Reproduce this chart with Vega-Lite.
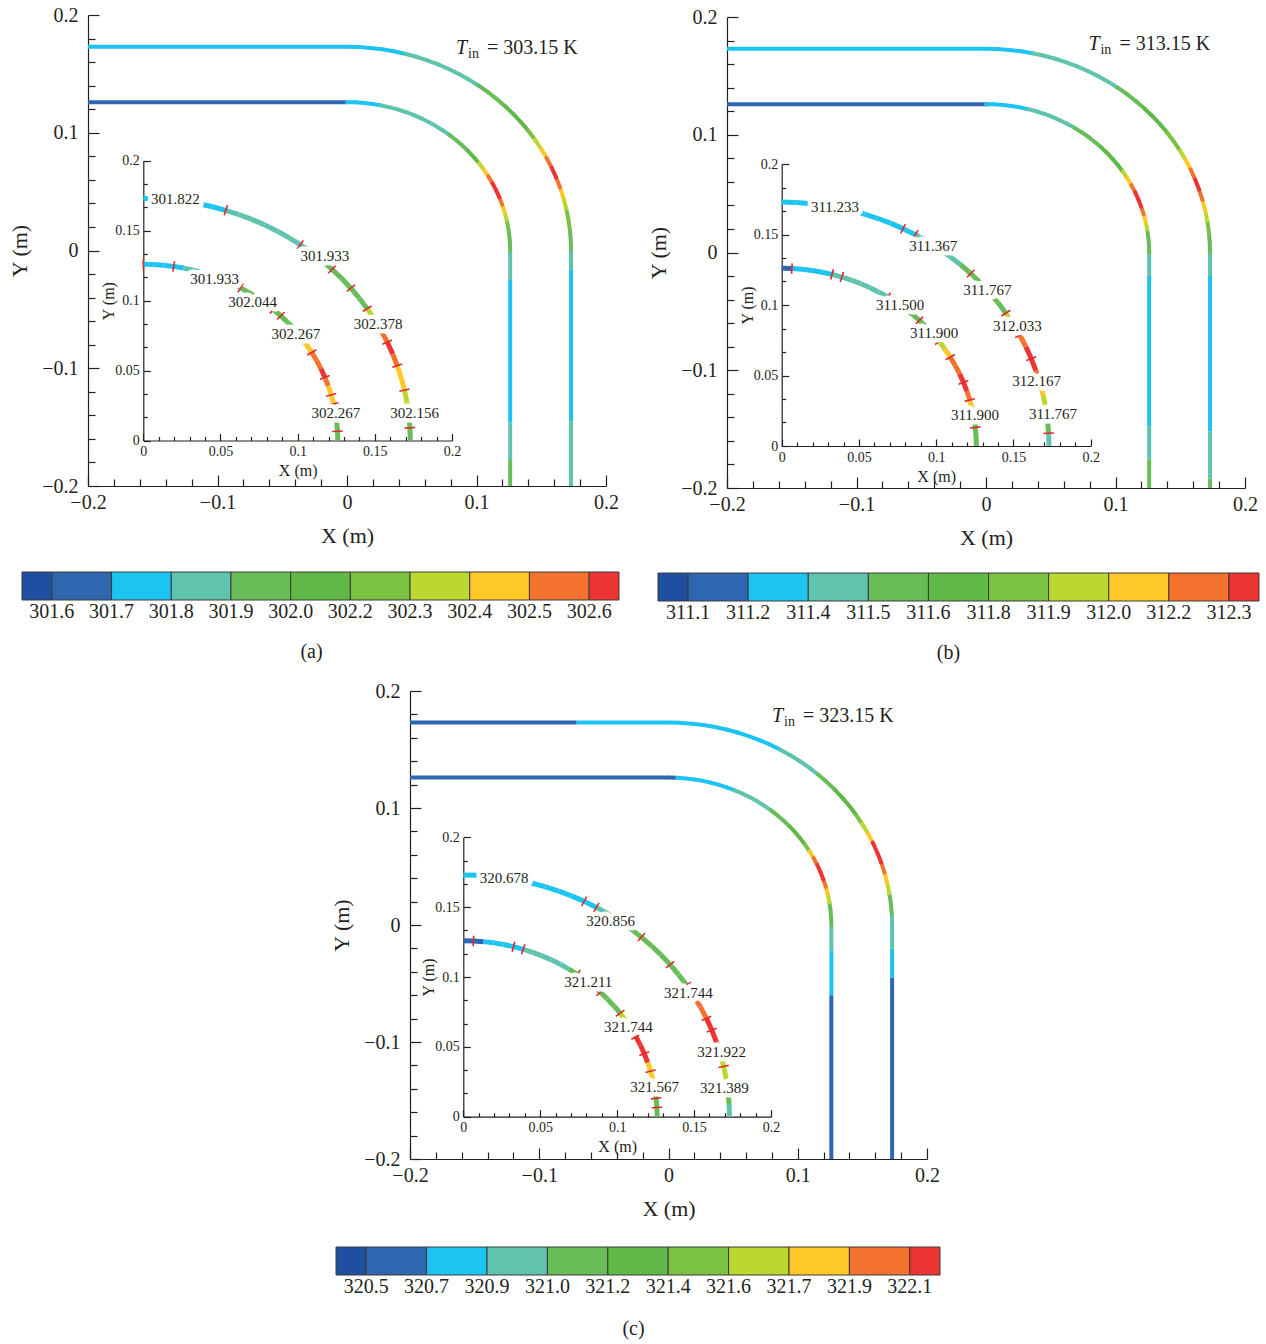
{
"$schema": "https://vega.github.io/schema/vega-lite/v6.json",
"width": 1266, "height": 1344,
"autosize": {"type": "none"},
"padding": 0,
"background": "white",
"config": {
  "view": {"stroke": null},
  "font": "Liberation Serif",
  "axis": {"labelFont": "Liberation Serif", "titleFont": "Liberation Serif", "labelColor": "#231F20", "titleColor": "#231F20", "domainColor": "#231F20", "tickColor": "#231F20", "domainWidth": 1.2, "tickWidth": 1.2, "grid": false, "titleFontWeight": "normal", "labelOverlap": false, "labelFlush": false, "labelBound": false, "labelFontSize": 20, "titleFontSize": 22}
},
"datasets": {
"geom": [
{"s":"O0","a":0,"x":0,"y":0.173,"x2":0.00906,"y2":0.17276},
{"s":"O1","a":3,"x":0.00906,"y":0.17276,"x2":0.01808,"y2":0.17205},
{"s":"O2","a":6,"x":0.01808,"y":0.17205,"x2":0.02706,"y2":0.17087},
{"s":"O3","a":9,"x":0.02706,"y":0.17087,"x2":0.03597,"y2":0.16922},
{"s":"O4","a":12,"x":0.03597,"y":0.16922,"x2":0.04478,"y2":0.16711},
{"s":"O5","a":15,"x":0.04478,"y":0.16711,"x2":0.05346,"y2":0.16453},
{"s":"O6","a":18,"x":0.05346,"y":0.16453,"x2":0.062,"y2":0.16151},
{"s":"O7","a":21,"x":0.062,"y":0.16151,"x2":0.07037,"y2":0.15804},
{"s":"O8","a":24,"x":0.07037,"y":0.15804,"x2":0.07854,"y2":0.15414},
{"s":"O9","a":27,"x":0.07854,"y":0.15414,"x2":0.0865,"y2":0.14982},
{"s":"O10","a":30,"x":0.0865,"y":0.14982,"x2":0.09422,"y2":0.14509},
{"s":"O11","a":33,"x":0.09422,"y":0.14509,"x2":0.10169,"y2":0.13996},
{"s":"O12","a":36,"x":0.10169,"y":0.13996,"x2":0.10887,"y2":0.13445},
{"s":"O13","a":39,"x":0.10887,"y":0.13445,"x2":0.11576,"y2":0.12856},
{"s":"O14","a":42,"x":0.11576,"y":0.12856,"x2":0.12233,"y2":0.12233},
{"s":"O15","a":45,"x":0.12233,"y":0.12233,"x2":0.12856,"y2":0.11576},
{"s":"O16","a":48,"x":0.12856,"y":0.11576,"x2":0.13445,"y2":0.10887},
{"s":"O17","a":51,"x":0.13445,"y":0.10887,"x2":0.13996,"y2":0.10169},
{"s":"O18","a":54,"x":0.13996,"y":0.10169,"x2":0.14509,"y2":0.09422},
{"s":"O19","a":57,"x":0.14509,"y":0.09422,"x2":0.14982,"y2":0.0865},
{"s":"O20","a":60,"x":0.14982,"y":0.0865,"x2":0.15414,"y2":0.07854},
{"s":"O21","a":63,"x":0.15414,"y":0.07854,"x2":0.15804,"y2":0.07037},
{"s":"O22","a":66,"x":0.15804,"y":0.07037,"x2":0.16151,"y2":0.062},
{"s":"O23","a":69,"x":0.16151,"y":0.062,"x2":0.16453,"y2":0.05346},
{"s":"O24","a":72,"x":0.16453,"y":0.05346,"x2":0.16711,"y2":0.04478},
{"s":"O25","a":75,"x":0.16711,"y":0.04478,"x2":0.16922,"y2":0.03597},
{"s":"O26","a":78,"x":0.16922,"y":0.03597,"x2":0.17087,"y2":0.02706},
{"s":"O27","a":81,"x":0.17087,"y":0.02706,"x2":0.17205,"y2":0.01808},
{"s":"O28","a":84,"x":0.17205,"y":0.01808,"x2":0.17276,"y2":0.00906},
{"s":"O29","a":87,"x":0.17276,"y":0.00906,"x2":0.173,"y2":0},
{"s":"I0","a":0,"x":0,"y":0.126,"x2":0.0066,"y2":0.12583},
{"s":"I1","a":3,"x":0.0066,"y":0.12583,"x2":0.01317,"y2":0.12531},
{"s":"I2","a":6,"x":0.01317,"y":0.12531,"x2":0.01971,"y2":0.12445},
{"s":"I3","a":9,"x":0.01971,"y":0.12445,"x2":0.0262,"y2":0.12325},
{"s":"I4","a":12,"x":0.0262,"y":0.12325,"x2":0.03261,"y2":0.12171},
{"s":"I5","a":15,"x":0.03261,"y":0.12171,"x2":0.03894,"y2":0.11983},
{"s":"I6","a":18,"x":0.03894,"y":0.11983,"x2":0.04516,"y2":0.11763},
{"s":"I7","a":21,"x":0.04516,"y":0.11763,"x2":0.05125,"y2":0.11511},
{"s":"I8","a":24,"x":0.05125,"y":0.11511,"x2":0.0572,"y2":0.11227},
{"s":"I9","a":27,"x":0.0572,"y":0.11227,"x2":0.063,"y2":0.10912},
{"s":"I10","a":30,"x":0.063,"y":0.10912,"x2":0.06863,"y2":0.10567},
{"s":"I11","a":33,"x":0.06863,"y":0.10567,"x2":0.07406,"y2":0.10194},
{"s":"I12","a":36,"x":0.07406,"y":0.10194,"x2":0.07929,"y2":0.09792},
{"s":"I13","a":39,"x":0.07929,"y":0.09792,"x2":0.08431,"y2":0.09364},
{"s":"I14","a":42,"x":0.08431,"y":0.09364,"x2":0.0891,"y2":0.0891},
{"s":"I15","a":45,"x":0.0891,"y":0.0891,"x2":0.09364,"y2":0.08431},
{"s":"I16","a":48,"x":0.09364,"y":0.08431,"x2":0.09792,"y2":0.07929},
{"s":"I17","a":51,"x":0.09792,"y":0.07929,"x2":0.10194,"y2":0.07406},
{"s":"I18","a":54,"x":0.10194,"y":0.07406,"x2":0.10567,"y2":0.06863},
{"s":"I19","a":57,"x":0.10567,"y":0.06863,"x2":0.10912,"y2":0.063},
{"s":"I20","a":60,"x":0.10912,"y":0.063,"x2":0.11227,"y2":0.0572},
{"s":"I21","a":63,"x":0.11227,"y":0.0572,"x2":0.11511,"y2":0.05125},
{"s":"I22","a":66,"x":0.11511,"y":0.05125,"x2":0.11763,"y2":0.04516},
{"s":"I23","a":69,"x":0.11763,"y":0.04516,"x2":0.11983,"y2":0.03894},
{"s":"I24","a":72,"x":0.11983,"y":0.03894,"x2":0.12171,"y2":0.03261},
{"s":"I25","a":75,"x":0.12171,"y":0.03261,"x2":0.12325,"y2":0.0262},
{"s":"I26","a":78,"x":0.12325,"y":0.0262,"x2":0.12445,"y2":0.01971},
{"s":"I27","a":81,"x":0.12445,"y":0.01971,"x2":0.12531,"y2":0.01317},
{"s":"I28","a":84,"x":0.12531,"y":0.01317,"x2":0.12583,"y2":0.0066},
{"s":"I29","a":87,"x":0.12583,"y":0.0066,"x2":0.126,"y2":0}
],
"runs": [
{"p":"a","v":"m","k":2,"s":["O0","O1","O2","O3","O4"]},
{"p":"a","v":"m","k":3,"s":["O5","O6","O7","O8","O9","O10","O11"]},
{"p":"a","v":"m","k":4,"s":["O12","O13","O14","O28","O29"]},
{"p":"a","v":"m","k":5,"s":["O15","O16","O17"]},
{"p":"a","v":"m","k":6,"s":["O18","O26","O27"]},
{"p":"a","v":"m","k":7,"s":["O19","O25"]},
{"p":"a","v":"m","k":8,"s":["O20","O24"]},
{"p":"a","v":"m","k":9,"s":["O21","O23"]},
{"p":"a","v":"m","k":10,"s":["O22"]},
{"p":"a","v":"m","k":2,"s":["I0","I1","I2","I3"]},
{"p":"a","v":"m","k":3,"s":["I4","I5","I6","I7","I8","I9","I10","I11","I12"]},
{"p":"a","v":"m","k":4,"s":["I13","I14","I15","I27","I28","I29"]},
{"p":"a","v":"m","k":5,"s":["I16","I17"]},
{"p":"a","v":"m","k":6,"s":["I26"]},
{"p":"a","v":"m","k":7,"s":["I18","I25"]},
{"p":"a","v":"m","k":8,"s":["I19","I24"]},
{"p":"a","v":"m","k":9,"s":["I20","I23"]},
{"p":"a","v":"m","k":10,"s":["I21","I22"]},
{"p":"a","v":"i","k":2,"s":["O0","O1","O2","O3","O4","O5"]},
{"p":"a","v":"i","k":3,"s":["O6","O7","O8","O9","O10","O11","O12"]},
{"p":"a","v":"i","k":4,"s":["O13","O14","O15","O16","O17","O18","O28","O29"]},
{"p":"a","v":"i","k":7,"s":["O19","O26","O27"]},
{"p":"a","v":"i","k":8,"s":["O24","O25"]},
{"p":"a","v":"i","k":9,"s":["O20","O21","O23"]},
{"p":"a","v":"i","k":10,"s":["O22"]},
{"p":"a","v":"i","k":2,"s":["I0","I1","I2","I3"]},
{"p":"a","v":"i","k":3,"s":["I4","I5","I6","I7","I8","I9"]},
{"p":"a","v":"i","k":4,"s":["I10","I11","I12","I13","I14","I15","I16","I27","I28","I29"]},
{"p":"a","v":"i","k":7,"s":["I17","I26"]},
{"p":"a","v":"i","k":8,"s":["I18","I19","I24","I25"]},
{"p":"a","v":"i","k":9,"s":["I20","I21","I23"]},
{"p":"a","v":"i","k":10,"s":["I22"]},
{"p":"b","v":"m","k":2,"s":["O0","O1","O2","O3"]},
{"p":"b","v":"m","k":3,"s":["O4","O5","O6","O7","O8","O9","O10","O11"]},
{"p":"b","v":"m","k":4,"s":["O12","O13","O14","O28","O29"]},
{"p":"b","v":"m","k":5,"s":["O15","O16","O17"]},
{"p":"b","v":"m","k":6,"s":["O18","O19","O27"]},
{"p":"b","v":"m","k":7,"s":["O20","O26"]},
{"p":"b","v":"m","k":8,"s":["O21","O25"]},
{"p":"b","v":"m","k":9,"s":["O22","O24"]},
{"p":"b","v":"m","k":10,"s":["O23"]},
{"p":"b","v":"m","k":2,"s":["I0","I1","I2","I3","I4"]},
{"p":"b","v":"m","k":3,"s":["I5","I6","I7","I8","I9","I10"]},
{"p":"b","v":"m","k":4,"s":["I11","I12","I13","I14","I27","I28","I29"]},
{"p":"b","v":"m","k":5,"s":["I15","I16","I17","I18"]},
{"p":"b","v":"m","k":7,"s":["I19","I26"]},
{"p":"b","v":"m","k":8,"s":["I20","I25"]},
{"p":"b","v":"m","k":9,"s":["I21","I24"]},
{"p":"b","v":"m","k":10,"s":["I22","I23"]},
{"p":"b","v":"i","k":2,"s":["O0","O1","O2","O3","O4","O5","O6","O7","O8","O9"]},
{"p":"b","v":"i","k":3,"s":["O10","O11","O12","O13","O29"]},
{"p":"b","v":"i","k":4,"s":["O14","O15","O16","O17","O18","O28"]},
{"p":"b","v":"i","k":7,"s":["O19","O26","O27"]},
{"p":"b","v":"i","k":8,"s":["O25"]},
{"p":"b","v":"i","k":9,"s":["O20","O21","O24"]},
{"p":"b","v":"i","k":10,"s":["O22","O23"]},
{"p":"b","v":"i","k":1,"s":["I0"]},
{"p":"b","v":"i","k":2,"s":["I1","I2","I3","I4"]},
{"p":"b","v":"i","k":3,"s":["I5","I6","I7","I8","I9","I10","I11"]},
{"p":"b","v":"i","k":4,"s":["I12","I13","I14","I15","I16","I17","I27","I28","I29"]},
{"p":"b","v":"i","k":7,"s":["I18"]},
{"p":"b","v":"i","k":8,"s":["I19","I25","I26"]},
{"p":"b","v":"i","k":9,"s":["I20","I21","I24"]},
{"p":"b","v":"i","k":10,"s":["I22","I23"]},
{"p":"c","v":"m","k":2,"s":["O0","O1","O2","O3","O4","O5","O6","O7","O8","O9"]},
{"p":"c","v":"m","k":3,"s":["O10","O11","O12","O13","O29"]},
{"p":"c","v":"m","k":4,"s":["O14","O15","O27","O28"]},
{"p":"c","v":"m","k":5,"s":["O16","O17","O18"]},
{"p":"c","v":"m","k":6,"s":["O19"]},
{"p":"c","v":"m","k":7,"s":["O20","O26"]},
{"p":"c","v":"m","k":8,"s":["O21","O25"]},
{"p":"c","v":"m","k":9,"s":["O24"]},
{"p":"c","v":"m","k":10,"s":["O22","O23"]},
{"p":"c","v":"m","k":1,"s":["I0"]},
{"p":"c","v":"m","k":2,"s":["I1","I2","I3","I4","I5","I6","I7"]},
{"p":"c","v":"m","k":3,"s":["I8","I9","I10","I11","I12"]},
{"p":"c","v":"m","k":4,"s":["I13","I14","I15","I27","I28","I29"]},
{"p":"c","v":"m","k":5,"s":["I16","I17","I18"]},
{"p":"c","v":"m","k":6,"s":["I19"]},
{"p":"c","v":"m","k":7,"s":["I26"]},
{"p":"c","v":"m","k":8,"s":["I20","I25"]},
{"p":"c","v":"m","k":9,"s":["I21","I24"]},
{"p":"c","v":"m","k":10,"s":["I22","I23"]},
{"p":"c","v":"i","k":2,"s":["O0","O1","O2","O3","O4","O5","O6","O7","O8","O9"]},
{"p":"c","v":"i","k":3,"s":["O10","O11","O12","O29"]},
{"p":"c","v":"i","k":4,"s":["O13","O14","O15","O16","O17","O18","O28"]},
{"p":"c","v":"i","k":7,"s":["O19","O25","O26","O27"]},
{"p":"c","v":"i","k":9,"s":["O20","O21","O24"]},
{"p":"c","v":"i","k":10,"s":["O22","O23"]},
{"p":"c","v":"i","k":1,"s":["I0","I1"]},
{"p":"c","v":"i","k":2,"s":["I2","I3","I4","I5"]},
{"p":"c","v":"i","k":3,"s":["I6","I7","I8","I9","I10"]},
{"p":"c","v":"i","k":4,"s":["I11","I12","I13","I14","I15","I16","I17","I27","I28","I29"]},
{"p":"c","v":"i","k":7,"s":["I18","I19","I26"]},
{"p":"c","v":"i","k":8,"s":["I24","I25"]},
{"p":"c","v":"i","k":9,"s":["I20"]},
{"p":"c","v":"i","k":10,"s":["I21","I22","I23"]}
],
"straight": [
{"p":"a","x":-0.2,"y":0.173,"x2":0,"y2":0.173,"k":2},
{"p":"a","x":0.173,"y":0,"x2":0.173,"y2":-0.016,"k":3},
{"p":"a","x":0.173,"y":-0.016,"x2":0.173,"y2":-0.145,"k":2},
{"p":"a","x":0.173,"y":-0.145,"x2":0.173,"y2":-0.2,"k":3},
{"p":"a","x":-0.2,"y":0.126,"x2":0,"y2":0.126,"k":1},
{"p":"a","x":0.126,"y":0,"x2":0.126,"y2":-0.025,"k":3},
{"p":"a","x":0.126,"y":-0.025,"x2":0.126,"y2":-0.146,"k":2},
{"p":"a","x":0.126,"y":-0.146,"x2":0.126,"y2":-0.178,"k":3},
{"p":"a","x":0.126,"y":-0.178,"x2":0.126,"y2":-0.2,"k":4},
{"p":"b","x":-0.2,"y":0.173,"x2":0,"y2":0.173,"k":2},
{"p":"b","x":0.173,"y":0,"x2":0.173,"y2":-0.02,"k":3},
{"p":"b","x":0.173,"y":-0.02,"x2":0.173,"y2":-0.152,"k":2},
{"p":"b","x":0.173,"y":-0.152,"x2":0.173,"y2":-0.192,"k":3},
{"p":"b","x":0.173,"y":-0.192,"x2":0.173,"y2":-0.2,"k":4},
{"p":"b","x":-0.2,"y":0.126,"x2":0.002,"y2":0.126,"k":1},
{"p":"b","x":0.126,"y":0,"x2":0.126,"y2":-0.02,"k":3},
{"p":"b","x":0.126,"y":-0.02,"x2":0.126,"y2":-0.148,"k":2},
{"p":"b","x":0.126,"y":-0.148,"x2":0.126,"y2":-0.176,"k":3},
{"p":"b","x":0.126,"y":-0.176,"x2":0.126,"y2":-0.2,"k":4},
{"p":"c","x":-0.2,"y":0.173,"x2":-0.071,"y2":0.173,"k":1},
{"p":"c","x":-0.071,"y":0.173,"x2":0,"y2":0.173,"k":2},
{"p":"c","x":-0.2,"y":0.126,"x2":0,"y2":0.126,"k":1},
{"p":"c","x":0.173,"y":0,"x2":0.173,"y2":-0.02,"k":3},
{"p":"c","x":0.173,"y":-0.02,"x2":0.173,"y2":-0.045,"k":2},
{"p":"c","x":0.173,"y":-0.045,"x2":0.173,"y2":-0.2,"k":1},
{"p":"c","x":0.126,"y":0,"x2":0.126,"y2":-0.022,"k":3},
{"p":"c","x":0.126,"y":-0.022,"x2":0.126,"y2":-0.06,"k":2},
{"p":"c","x":0.126,"y":-0.06,"x2":0.126,"y2":-0.2,"k":1}
],
"cuts": [
{"p":"a","s":["O6","O12","O15","O17","O19","O21","O22","O24","O26","O28","O29","I0","I3","I10","I14","I15","I18","I20","I23","I25","I26","I29"]},
{"p":"b","s":["O9","O10","O15","O17","O19","O21","O23","O25","O27","O29","I1","I5","I6","I11","I12","I15","I18","I20","I23","I25","I28"]},
{"p":"c","s":["O9","O10","O14","O17","O19","O22","O23","O26","O28","I1","I5","I6","I12","I15","I18","I21","I23","I25","I28","I29"]}
],
"clab": [
{"p":"a","x":0.0207,"y":0.1724,"t":"301.822"},
{"p":"a","x":0.1177,"y":0.1317,"t":"301.933"},
{"p":"a","x":0.1522,"y":0.083,"t":"302.378"},
{"p":"a","x":0.1758,"y":0.0194,"t":"302.156"},
{"p":"a","x":0.0462,"y":0.1154,"t":"301.933"},
{"p":"a","x":0.0709,"y":0.0992,"t":"302.044"},
{"p":"a","x":0.0988,"y":0.0759,"t":"302.267"},
{"p":"a","x":0.1247,"y":0.0194,"t":"302.267"},
{"p":"b","x":0.0345,"y":0.1693,"t":"311.233"},
{"p":"b","x":0.0981,"y":0.1418,"t":"311.367"},
{"p":"b","x":0.1331,"y":0.1106,"t":"311.767"},
{"p":"b","x":0.1525,"y":0.0851,"t":"312.033"},
{"p":"b","x":0.165,"y":0.0461,"t":"312.167"},
{"p":"b","x":0.1756,"y":0.0227,"t":"311.767"},
{"p":"b","x":0.0766,"y":0.1,"t":"311.500"},
{"p":"b","x":0.0986,"y":0.0799,"t":"311.900"},
{"p":"b","x":0.1251,"y":0.022,"t":"311.900"},
{"p":"c","x":0.0265,"y":0.1707,"t":"320.678"},
{"p":"c","x":0.0958,"y":0.1403,"t":"320.856"},
{"p":"c","x":0.1463,"y":0.0883,"t":"321.744"},
{"p":"c","x":0.1679,"y":0.0465,"t":"321.922"},
{"p":"c","x":0.1697,"y":0.0203,"t":"321.389"},
{"p":"c","x":0.0812,"y":0.0962,"t":"321.211"},
{"p":"c","x":0.1073,"y":0.064,"t":"321.744"},
{"p":"c","x":0.1244,"y":0.0215,"t":"321.567"}
],
"tin": [
{"p":"a","x":0.0842,"y":0.1717,"e":"= 303.15 K"},
{"p":"b","x":0.0791,"y":0.1771,"e":"= 313.15 K"},
{"p":"c","x":0.0801,"y":0.1786,"e":"= 323.15 K"}
],
"cb": [
{"k":0,"lo":-0.5,"hi":0},{"k":1,"lo":0,"hi":1},{"k":2,"lo":1,"hi":2},{"k":3,"lo":2,"hi":3},{"k":4,"lo":3,"hi":4},{"k":5,"lo":4,"hi":5},{"k":6,"lo":5,"hi":6},{"k":7,"lo":6,"hi":7},{"k":8,"lo":7,"hi":8},{"k":9,"lo":8,"hi":9},{"k":10,"lo":9,"hi":9.5}
],
"cbl": [
{"p":"a","pos":0,"t":"301.6"},{"p":"a","pos":1,"t":"301.7"},{"p":"a","pos":2,"t":"301.8"},{"p":"a","pos":3,"t":"301.9"},{"p":"a","pos":4,"t":"302.0"},{"p":"a","pos":5,"t":"302.2"},{"p":"a","pos":6,"t":"302.3"},{"p":"a","pos":7,"t":"302.4"},{"p":"a","pos":8,"t":"302.5"},{"p":"a","pos":9,"t":"302.6"},
{"p":"b","pos":0,"t":"311.1"},{"p":"b","pos":1,"t":"311.2"},{"p":"b","pos":2,"t":"311.4"},{"p":"b","pos":3,"t":"311.5"},{"p":"b","pos":4,"t":"311.6"},{"p":"b","pos":5,"t":"311.8"},{"p":"b","pos":6,"t":"311.9"},{"p":"b","pos":7,"t":"312.0"},{"p":"b","pos":8,"t":"312.2"},{"p":"b","pos":9,"t":"312.3"},
{"p":"c","pos":0,"t":"320.5"},{"p":"c","pos":1,"t":"320.7"},{"p":"c","pos":2,"t":"320.9"},{"p":"c","pos":3,"t":"321.0"},{"p":"c","pos":4,"t":"321.2"},{"p":"c","pos":5,"t":"321.4"},{"p":"c","pos":6,"t":"321.6"},{"p":"c","pos":7,"t":"321.7"},{"p":"c","pos":8,"t":"321.9"},{"p":"c","pos":9,"t":"322.1"}
]
},
"layer": [
{
 "encoding": {
  "x": {"field":"x","type":"quantitative","scale":{"domain":[-0.2,0.2],"range":[88,606],"nice":false,"zero":false},
        "axis":{"orient":"bottom","offset":-858,"values":[-0.2,-0.18,-0.16,-0.14,-0.12,-0.1,-0.08,-0.06,-0.04,-0.02,0,0.02,0.04,0.06,0.08,0.1,0.12,0.14,0.16,0.18,0.2],"format":"~g","labelExpr":"abs(datum.value*10-round(datum.value*10))<0.01 ? datum.label : ''","tickSize":{"condition":{"test":"abs(datum.value*10-round(datum.value*10))<0.01","value":-11},"value":-7},"labelPadding":17,"title":"X (m)","titlePadding":9}},
  "y": {"field":"y","type":"quantitative","scale":{"domain":[-0.2,0.2],"range":[486,15],"nice":false,"zero":false},
        "axis":{"orient":"left","offset":-88,"values":[-0.2,-0.18,-0.16,-0.14,-0.12,-0.1,-0.08,-0.06,-0.04,-0.02,0,0.02,0.04,0.06,0.08,0.1,0.12,0.14,0.16,0.18,0.2],"format":"~g","labelExpr":"abs(datum.value*10-round(datum.value*10))<0.01 ? datum.label : ''","tickSize":{"condition":{"test":"abs(datum.value*10-round(datum.value*10))<0.01","value":-11},"value":-7},"labelPadding":21,"title":"Y (m)","titlePadding":10}}
 },
 "layer": [
  {"data":{"name":"straight"},"transform":[{"filter":"datum.p=='a'"}],"mark":{"type":"rule","strokeWidth":4},
   "encoding":{"x2":{"field":"x2"},"y2":{"field":"y2"},"color":{"field":"k","type":"ordinal","scale":{"domain":[0,1,2,3,4,5,6,7,8,9,10],"range":["#1E4FA0","#2F66B0","#1DC4F1","#60C3AE","#68BD58","#60B946","#7CC242","#BCD72F","#FEC828","#F3722E","#EE3432"]},"legend":null}}},
  {"data":{"name":"runs"},"transform":[{"filter":"datum.p=='a' && datum.v=='m'"},{"flatten":["s"]},{"lookup":"s","from":{"data":{"name":"geom"},"key":"s","fields":["x","y","x2","y2"]}}],
   "mark":{"type":"rule","strokeWidth":4,"strokeCap":"round"},
   "encoding":{"x2":{"field":"x2"},"y2":{"field":"y2"},"color":{"field":"k","type":"ordinal","scale":{"domain":[0,1,2,3,4,5,6,7,8,9,10],"range":["#1E4FA0","#2F66B0","#1DC4F1","#60C3AE","#68BD58","#60B946","#7CC242","#BCD72F","#FEC828","#F3722E","#EE3432"]},"legend":null}}},
  {"data":{"name":"tin"},"transform":[{"filter":"datum.p=='a'"}],"mark":{"type":"text","text":"T","font":"Liberation Serif","fontStyle":"italic","fontSize":20,"align":"left","baseline":"middle","fill":"#231F20"}},
  {"data":{"name":"tin"},"transform":[{"filter":"datum.p=='a'"}],"mark":{"type":"text","text":"in","font":"Liberation Serif","fontSize":14,"align":"left","baseline":"middle","dx":12,"dy":6,"fill":"#231F20"}},
  {"data":{"name":"tin"},"transform":[{"filter":"datum.p=='a'"}],"mark":{"type":"text","font":"Liberation Serif","fontSize":20,"align":"left","baseline":"middle","dx":31,"fill":"#231F20"},"encoding":{"text":{"field":"e"}}}
 ]
},
{
 "encoding": {
  "x": {"field":"x","type":"quantitative","scale":{"domain":[0,0.2],"range":[143.3,452],"nice":false,"zero":false},
        "axis":{"orient":"bottom","offset":-903.5,"values":[0,0.01,0.02,0.03,0.04,0.05,0.06,0.07,0.08,0.09,0.1,0.11,0.12,0.13,0.14,0.15,0.16,0.17,0.18,0.19,0.2],"format":"~g","labelExpr":"abs(datum.value*20-round(datum.value*20))<0.01 ? datum.label : ''","tickSize":{"condition":{"test":"abs(datum.value*20-round(datum.value*20))<0.01","value":-7},"value":-4},"labelPadding":11,"labelFontSize":14,"title":"X (m)","titleFontSize":16,"titlePadding":1}},
  "y": {"field":"y","type":"quantitative","scale":{"domain":[0,0.2],"range":[440.5,160.7],"nice":false,"zero":false},
        "axis":{"orient":"left","offset":-143.3,"values":[0,0.016667,0.033333,0.05,0.066667,0.083333,0.1,0.116667,0.133333,0.15,0.166667,0.183333,0.2],"format":"~g","labelExpr":"abs(datum.value*20-round(datum.value*20))<0.01 ? datum.label : ''","tickSize":{"condition":{"test":"abs(datum.value*20-round(datum.value*20))<0.01","value":-7},"value":-4},"labelPadding":11,"labelFontSize":14,"title":"Y (m)","titleFontSize":16,"titlePadding":-2}}
 },
 "layer": [
  {"data":{"name":"runs"},"transform":[{"filter":"datum.p=='a' && datum.v=='i'"},{"flatten":["s"]},{"lookup":"s","from":{"data":{"name":"geom"},"key":"s","fields":["x","y","x2","y2"]}}],
   "mark":{"type":"rule","strokeWidth":5,"strokeCap":"butt"},
   "encoding":{"x2":{"field":"x2"},"y2":{"field":"y2"},"color":{"field":"k","type":"ordinal","scale":{"domain":[0,1,2,3,4,5,6,7,8,9,10],"range":["#1E4FA0","#2F66B0","#1DC4F1","#60C3AE","#68BD58","#60B946","#7CC242","#BCD72F","#FEC828","#F3722E","#EE3432"]},"legend":null}}},
  {"data":{"name":"cuts"},"transform":[{"filter":"datum.p=='a'"},{"flatten":["s"]},{"lookup":"s","from":{"data":{"name":"geom"},"key":"s","fields":["x","y","a"]}}],
   "mark":{"type":"point","shape":"M0,-1L0,1","filled":false,"stroke":"#E3262B","strokeWidth":1.6,"size":110,"opacity":1},
   "encoding":{"angle":{"field":"a","type":"quantitative","scale":null}}},
  {"data":{"name":"clab"},"transform":[{"filter":"datum.p=='a'"}],"mark":{"type":"text","font":"Liberation Serif","fontSize":15,"fill":"white","stroke":"white","strokeWidth":9,"strokeJoin":"round"},"encoding":{"text":{"field":"t"}}},
  {"data":{"name":"clab"},"transform":[{"filter":"datum.p=='a'"}],"mark":{"type":"text","font":"Liberation Serif","fontSize":15,"fill":"#231F20"},"encoding":{"text":{"field":"t"}}}
 ]
},
{
 "layer": [
  {"data":{"name":"cb"},"mark":{"type":"rect","stroke":"#3a3a3a","strokeWidth":1},
   "encoding":{
    "x":{"field":"lo","type":"quantitative","scale":{"domain":[-0.5,9.5],"range":[22,619],"nice":false,"zero":false},"axis":{"orient":"bottom","offset":-744,"labels":false,"ticks":false,"domain":false,"title":"(a)","titleFontSize":20,"titlePadding":41,"titleX":311}},
    "x2":{"field":"hi"},
    "y":{"datum":0,"type":"quantitative","scale":{"domain":[0,1],"range":[600,572],"nice":false,"zero":false},"axis":null},
    "y2":{"datum":1},
    "color":{"field":"k","type":"ordinal","scale":{"domain":[0,1,2,3,4,5,6,7,8,9,10],"range":["#1E4FA0","#2F66B0","#1DC4F1","#60C3AE","#68BD58","#60B946","#7CC242","#BCD72F","#FEC828","#F3722E","#EE3432"]},"legend":null}}},
  {"data":{"name":"cbl"},"transform":[{"filter":"datum.p=='a'"}],"mark":{"type":"text","font":"Liberation Serif","fontSize":20,"baseline":"middle","dy":12,"fill":"#231F20"},
   "encoding":{
    "x":{"field":"pos","type":"quantitative","scale":{"domain":[-0.5,9.5],"range":[22,619],"nice":false,"zero":false},"axis":{"orient":"bottom","offset":-744,"labels":false,"ticks":false,"domain":false,"title":"(a)","titleFontSize":20,"titlePadding":41,"titleX":311}},
    "y":{"datum":0,"type":"quantitative","scale":{"domain":[0,1],"range":[600,572],"nice":false,"zero":false},"axis":null},
    "text":{"field":"t"}}}
 ]
},
{
 "encoding": {
  "x": {"field":"x","type":"quantitative","scale":{"domain":[-0.2,0.2],"range":[727,1245],"nice":false,"zero":false},
        "axis":{"orient":"bottom","offset":-856,"values":[-0.2,-0.18,-0.16,-0.14,-0.12,-0.1,-0.08,-0.06,-0.04,-0.02,0,0.02,0.04,0.06,0.08,0.1,0.12,0.14,0.16,0.18,0.2],"format":"~g","labelExpr":"abs(datum.value*10-round(datum.value*10))<0.01 ? datum.label : ''","tickSize":{"condition":{"test":"abs(datum.value*10-round(datum.value*10))<0.01","value":-11},"value":-7},"labelPadding":17,"title":"X (m)","titlePadding":9}},
  "y": {"field":"y","type":"quantitative","scale":{"domain":[-0.2,0.2],"range":[488,17],"nice":false,"zero":false},
        "axis":{"orient":"left","offset":-727,"values":[-0.2,-0.18,-0.16,-0.14,-0.12,-0.1,-0.08,-0.06,-0.04,-0.02,0,0.02,0.04,0.06,0.08,0.1,0.12,0.14,0.16,0.18,0.2],"format":"~g","labelExpr":"abs(datum.value*10-round(datum.value*10))<0.01 ? datum.label : ''","tickSize":{"condition":{"test":"abs(datum.value*10-round(datum.value*10))<0.01","value":-11},"value":-7},"labelPadding":21,"title":"Y (m)","titlePadding":10}}
 },
 "layer": [
  {"data":{"name":"straight"},"transform":[{"filter":"datum.p=='b'"}],"mark":{"type":"rule","strokeWidth":4},
   "encoding":{"x2":{"field":"x2"},"y2":{"field":"y2"},"color":{"field":"k","type":"ordinal","scale":{"domain":[0,1,2,3,4,5,6,7,8,9,10],"range":["#1E4FA0","#2F66B0","#1DC4F1","#60C3AE","#68BD58","#60B946","#7CC242","#BCD72F","#FEC828","#F3722E","#EE3432"]},"legend":null}}},
  {"data":{"name":"runs"},"transform":[{"filter":"datum.p=='b' && datum.v=='m'"},{"flatten":["s"]},{"lookup":"s","from":{"data":{"name":"geom"},"key":"s","fields":["x","y","x2","y2"]}}],
   "mark":{"type":"rule","strokeWidth":4,"strokeCap":"round"},
   "encoding":{"x2":{"field":"x2"},"y2":{"field":"y2"},"color":{"field":"k","type":"ordinal","scale":{"domain":[0,1,2,3,4,5,6,7,8,9,10],"range":["#1E4FA0","#2F66B0","#1DC4F1","#60C3AE","#68BD58","#60B946","#7CC242","#BCD72F","#FEC828","#F3722E","#EE3432"]},"legend":null}}},
  {"data":{"name":"tin"},"transform":[{"filter":"datum.p=='b'"}],"mark":{"type":"text","text":"T","font":"Liberation Serif","fontStyle":"italic","fontSize":20,"align":"left","baseline":"middle","fill":"#231F20"}},
  {"data":{"name":"tin"},"transform":[{"filter":"datum.p=='b'"}],"mark":{"type":"text","text":"in","font":"Liberation Serif","fontSize":14,"align":"left","baseline":"middle","dx":12,"dy":6,"fill":"#231F20"}},
  {"data":{"name":"tin"},"transform":[{"filter":"datum.p=='b'"}],"mark":{"type":"text","font":"Liberation Serif","fontSize":20,"align":"left","baseline":"middle","dx":31,"fill":"#231F20"},"encoding":{"text":{"field":"e"}}}
 ]
},
{
 "encoding": {
  "x": {"field":"x","type":"quantitative","scale":{"domain":[0,0.2],"range":[781.7,1090.7],"nice":false,"zero":false},
        "axis":{"orient":"bottom","offset":-898,"values":[0,0.01,0.02,0.03,0.04,0.05,0.06,0.07,0.08,0.09,0.1,0.11,0.12,0.13,0.14,0.15,0.16,0.17,0.18,0.19,0.2],"format":"~g","labelExpr":"abs(datum.value*20-round(datum.value*20))<0.01 ? datum.label : ''","tickSize":{"condition":{"test":"abs(datum.value*20-round(datum.value*20))<0.01","value":-7},"value":-4},"labelPadding":11,"labelFontSize":14,"title":"X (m)","titleFontSize":16,"titlePadding":1}},
  "y": {"field":"y","type":"quantitative","scale":{"domain":[0,0.2],"range":[446,164],"nice":false,"zero":false},
        "axis":{"orient":"left","offset":-781.7,"values":[0,0.016667,0.033333,0.05,0.066667,0.083333,0.1,0.116667,0.133333,0.15,0.166667,0.183333,0.2],"format":"~g","labelExpr":"abs(datum.value*20-round(datum.value*20))<0.01 ? datum.label : ''","tickSize":{"condition":{"test":"abs(datum.value*20-round(datum.value*20))<0.01","value":-7},"value":-4},"labelPadding":11,"labelFontSize":14,"title":"Y (m)","titleFontSize":16,"titlePadding":-2}}
 },
 "layer": [
  {"data":{"name":"runs"},"transform":[{"filter":"datum.p=='b' && datum.v=='i'"},{"flatten":["s"]},{"lookup":"s","from":{"data":{"name":"geom"},"key":"s","fields":["x","y","x2","y2"]}}],
   "mark":{"type":"rule","strokeWidth":5,"strokeCap":"butt"},
   "encoding":{"x2":{"field":"x2"},"y2":{"field":"y2"},"color":{"field":"k","type":"ordinal","scale":{"domain":[0,1,2,3,4,5,6,7,8,9,10],"range":["#1E4FA0","#2F66B0","#1DC4F1","#60C3AE","#68BD58","#60B946","#7CC242","#BCD72F","#FEC828","#F3722E","#EE3432"]},"legend":null}}},
  {"data":{"name":"cuts"},"transform":[{"filter":"datum.p=='b'"},{"flatten":["s"]},{"lookup":"s","from":{"data":{"name":"geom"},"key":"s","fields":["x","y","a"]}}],
   "mark":{"type":"point","shape":"M0,-1L0,1","filled":false,"stroke":"#E3262B","strokeWidth":1.6,"size":110,"opacity":1},
   "encoding":{"angle":{"field":"a","type":"quantitative","scale":null}}},
  {"data":{"name":"clab"},"transform":[{"filter":"datum.p=='b'"}],"mark":{"type":"text","font":"Liberation Serif","fontSize":15,"fill":"white","stroke":"white","strokeWidth":9,"strokeJoin":"round"},"encoding":{"text":{"field":"t"}}},
  {"data":{"name":"clab"},"transform":[{"filter":"datum.p=='b'"}],"mark":{"type":"text","font":"Liberation Serif","fontSize":15,"fill":"#231F20"},"encoding":{"text":{"field":"t"}}}
 ]
},
{
 "layer": [
  {"data":{"name":"cb"},"mark":{"type":"rect","stroke":"#3a3a3a","strokeWidth":1},
   "encoding":{
    "x":{"field":"lo","type":"quantitative","scale":{"domain":[-0.5,9.5],"range":[658,1259],"nice":false,"zero":false},"axis":{"orient":"bottom","offset":-743,"labels":false,"ticks":false,"domain":false,"title":"(b)","titleFontSize":20,"titlePadding":41,"titleX":948}},
    "x2":{"field":"hi"},
    "y":{"datum":0,"type":"quantitative","scale":{"domain":[0,1],"range":[601,573],"nice":false,"zero":false},"axis":null},
    "y2":{"datum":1},
    "color":{"field":"k","type":"ordinal","scale":{"domain":[0,1,2,3,4,5,6,7,8,9,10],"range":["#1E4FA0","#2F66B0","#1DC4F1","#60C3AE","#68BD58","#60B946","#7CC242","#BCD72F","#FEC828","#F3722E","#EE3432"]},"legend":null}}},
  {"data":{"name":"cbl"},"transform":[{"filter":"datum.p=='b'"}],"mark":{"type":"text","font":"Liberation Serif","fontSize":20,"baseline":"middle","dy":12,"fill":"#231F20"},
   "encoding":{
    "x":{"field":"pos","type":"quantitative","scale":{"domain":[-0.5,9.5],"range":[658,1259],"nice":false,"zero":false},"axis":{"orient":"bottom","offset":-743,"labels":false,"ticks":false,"domain":false,"title":"(b)","titleFontSize":20,"titlePadding":41,"titleX":948}},
    "y":{"datum":0,"type":"quantitative","scale":{"domain":[0,1],"range":[601,573],"nice":false,"zero":false},"axis":null},
    "text":{"field":"t"}}}
 ]
},
{
 "encoding": {
  "x": {"field":"x","type":"quantitative","scale":{"domain":[-0.2,0.2],"range":[410,927],"nice":false,"zero":false},
        "axis":{"orient":"bottom","offset":-185,"values":[-0.2,-0.18,-0.16,-0.14,-0.12,-0.1,-0.08,-0.06,-0.04,-0.02,0,0.02,0.04,0.06,0.08,0.1,0.12,0.14,0.16,0.18,0.2],"format":"~g","labelExpr":"abs(datum.value*10-round(datum.value*10))<0.01 ? datum.label : ''","tickSize":{"condition":{"test":"abs(datum.value*10-round(datum.value*10))<0.01","value":-11},"value":-7},"labelPadding":17,"title":"X (m)","titlePadding":9}},
  "y": {"field":"y","type":"quantitative","scale":{"domain":[-0.2,0.2],"range":[1159,691],"nice":false,"zero":false},
        "axis":{"orient":"left","offset":-410,"values":[-0.2,-0.18,-0.16,-0.14,-0.12,-0.1,-0.08,-0.06,-0.04,-0.02,0,0.02,0.04,0.06,0.08,0.1,0.12,0.14,0.16,0.18,0.2],"format":"~g","labelExpr":"abs(datum.value*10-round(datum.value*10))<0.01 ? datum.label : ''","tickSize":{"condition":{"test":"abs(datum.value*10-round(datum.value*10))<0.01","value":-11},"value":-7},"labelPadding":21,"title":"Y (m)","titlePadding":10}}
 },
 "layer": [
  {"data":{"name":"straight"},"transform":[{"filter":"datum.p=='c'"}],"mark":{"type":"rule","strokeWidth":4},
   "encoding":{"x2":{"field":"x2"},"y2":{"field":"y2"},"color":{"field":"k","type":"ordinal","scale":{"domain":[0,1,2,3,4,5,6,7,8,9,10],"range":["#1E4FA0","#2F66B0","#1DC4F1","#60C3AE","#68BD58","#60B946","#7CC242","#BCD72F","#FEC828","#F3722E","#EE3432"]},"legend":null}}},
  {"data":{"name":"runs"},"transform":[{"filter":"datum.p=='c' && datum.v=='m'"},{"flatten":["s"]},{"lookup":"s","from":{"data":{"name":"geom"},"key":"s","fields":["x","y","x2","y2"]}}],
   "mark":{"type":"rule","strokeWidth":4,"strokeCap":"round"},
   "encoding":{"x2":{"field":"x2"},"y2":{"field":"y2"},"color":{"field":"k","type":"ordinal","scale":{"domain":[0,1,2,3,4,5,6,7,8,9,10],"range":["#1E4FA0","#2F66B0","#1DC4F1","#60C3AE","#68BD58","#60B946","#7CC242","#BCD72F","#FEC828","#F3722E","#EE3432"]},"legend":null}}},
  {"data":{"name":"tin"},"transform":[{"filter":"datum.p=='c'"}],"mark":{"type":"text","text":"T","font":"Liberation Serif","fontStyle":"italic","fontSize":20,"align":"left","baseline":"middle","fill":"#231F20"}},
  {"data":{"name":"tin"},"transform":[{"filter":"datum.p=='c'"}],"mark":{"type":"text","text":"in","font":"Liberation Serif","fontSize":14,"align":"left","baseline":"middle","dx":12,"dy":6,"fill":"#231F20"}},
  {"data":{"name":"tin"},"transform":[{"filter":"datum.p=='c'"}],"mark":{"type":"text","font":"Liberation Serif","fontSize":20,"align":"left","baseline":"middle","dx":31,"fill":"#231F20"},"encoding":{"text":{"field":"e"}}}
 ]
},
{
 "encoding": {
  "x": {"field":"x","type":"quantitative","scale":{"domain":[0,0.2],"range":[463.3,771],"nice":false,"zero":false},
        "axis":{"orient":"bottom","offset":-227.3,"values":[0,0.01,0.02,0.03,0.04,0.05,0.06,0.07,0.08,0.09,0.1,0.11,0.12,0.13,0.14,0.15,0.16,0.17,0.18,0.19,0.2],"format":"~g","labelExpr":"abs(datum.value*20-round(datum.value*20))<0.01 ? datum.label : ''","tickSize":{"condition":{"test":"abs(datum.value*20-round(datum.value*20))<0.01","value":-7},"value":-4},"labelPadding":11,"labelFontSize":14,"title":"X (m)","titleFontSize":16,"titlePadding":1}},
  "y": {"field":"y","type":"quantitative","scale":{"domain":[0,0.2],"range":[1116.7,837.3],"nice":false,"zero":false},
        "axis":{"orient":"left","offset":-463.3,"values":[0,0.016667,0.033333,0.05,0.066667,0.083333,0.1,0.116667,0.133333,0.15,0.166667,0.183333,0.2],"format":"~g","labelExpr":"abs(datum.value*20-round(datum.value*20))<0.01 ? datum.label : ''","tickSize":{"condition":{"test":"abs(datum.value*20-round(datum.value*20))<0.01","value":-7},"value":-4},"labelPadding":11,"labelFontSize":14,"title":"Y (m)","titleFontSize":16,"titlePadding":-2}}
 },
 "layer": [
  {"data":{"name":"runs"},"transform":[{"filter":"datum.p=='c' && datum.v=='i'"},{"flatten":["s"]},{"lookup":"s","from":{"data":{"name":"geom"},"key":"s","fields":["x","y","x2","y2"]}}],
   "mark":{"type":"rule","strokeWidth":5,"strokeCap":"butt"},
   "encoding":{"x2":{"field":"x2"},"y2":{"field":"y2"},"color":{"field":"k","type":"ordinal","scale":{"domain":[0,1,2,3,4,5,6,7,8,9,10],"range":["#1E4FA0","#2F66B0","#1DC4F1","#60C3AE","#68BD58","#60B946","#7CC242","#BCD72F","#FEC828","#F3722E","#EE3432"]},"legend":null}}},
  {"data":{"name":"cuts"},"transform":[{"filter":"datum.p=='c'"},{"flatten":["s"]},{"lookup":"s","from":{"data":{"name":"geom"},"key":"s","fields":["x","y","a"]}}],
   "mark":{"type":"point","shape":"M0,-1L0,1","filled":false,"stroke":"#E3262B","strokeWidth":1.6,"size":110,"opacity":1},
   "encoding":{"angle":{"field":"a","type":"quantitative","scale":null}}},
  {"data":{"name":"clab"},"transform":[{"filter":"datum.p=='c'"}],"mark":{"type":"text","font":"Liberation Serif","fontSize":15,"fill":"white","stroke":"white","strokeWidth":9,"strokeJoin":"round"},"encoding":{"text":{"field":"t"}}},
  {"data":{"name":"clab"},"transform":[{"filter":"datum.p=='c'"}],"mark":{"type":"text","font":"Liberation Serif","fontSize":15,"fill":"#231F20"},"encoding":{"text":{"field":"t"}}}
 ]
},
{
 "layer": [
  {"data":{"name":"cb"},"mark":{"type":"rect","stroke":"#3a3a3a","strokeWidth":1},
   "encoding":{
    "x":{"field":"lo","type":"quantitative","scale":{"domain":[-0.5,9.5],"range":[336,940],"nice":false,"zero":false},"axis":{"orient":"bottom","offset":-69,"labels":false,"ticks":false,"domain":false,"title":"(c)","titleFontSize":20,"titlePadding":43,"titleX":633}},
    "x2":{"field":"hi"},
    "y":{"datum":0,"type":"quantitative","scale":{"domain":[0,1],"range":[1275,1247],"nice":false,"zero":false},"axis":null},
    "y2":{"datum":1},
    "color":{"field":"k","type":"ordinal","scale":{"domain":[0,1,2,3,4,5,6,7,8,9,10],"range":["#1E4FA0","#2F66B0","#1DC4F1","#60C3AE","#68BD58","#60B946","#7CC242","#BCD72F","#FEC828","#F3722E","#EE3432"]},"legend":null}}},
  {"data":{"name":"cbl"},"transform":[{"filter":"datum.p=='c'"}],"mark":{"type":"text","font":"Liberation Serif","fontSize":20,"baseline":"middle","dy":12,"fill":"#231F20"},
   "encoding":{
    "x":{"field":"pos","type":"quantitative","scale":{"domain":[-0.5,9.5],"range":[336,940],"nice":false,"zero":false},"axis":{"orient":"bottom","offset":-69,"labels":false,"ticks":false,"domain":false,"title":"(c)","titleFontSize":20,"titlePadding":43,"titleX":633}},
    "y":{"datum":0,"type":"quantitative","scale":{"domain":[0,1],"range":[1275,1247],"nice":false,"zero":false},"axis":null},
    "text":{"field":"t"}}}
 ]
}
],
"resolve": {"scale": {"x": "independent", "y": "independent"}, "axis": {"x": "independent", "y": "independent"}}
}
